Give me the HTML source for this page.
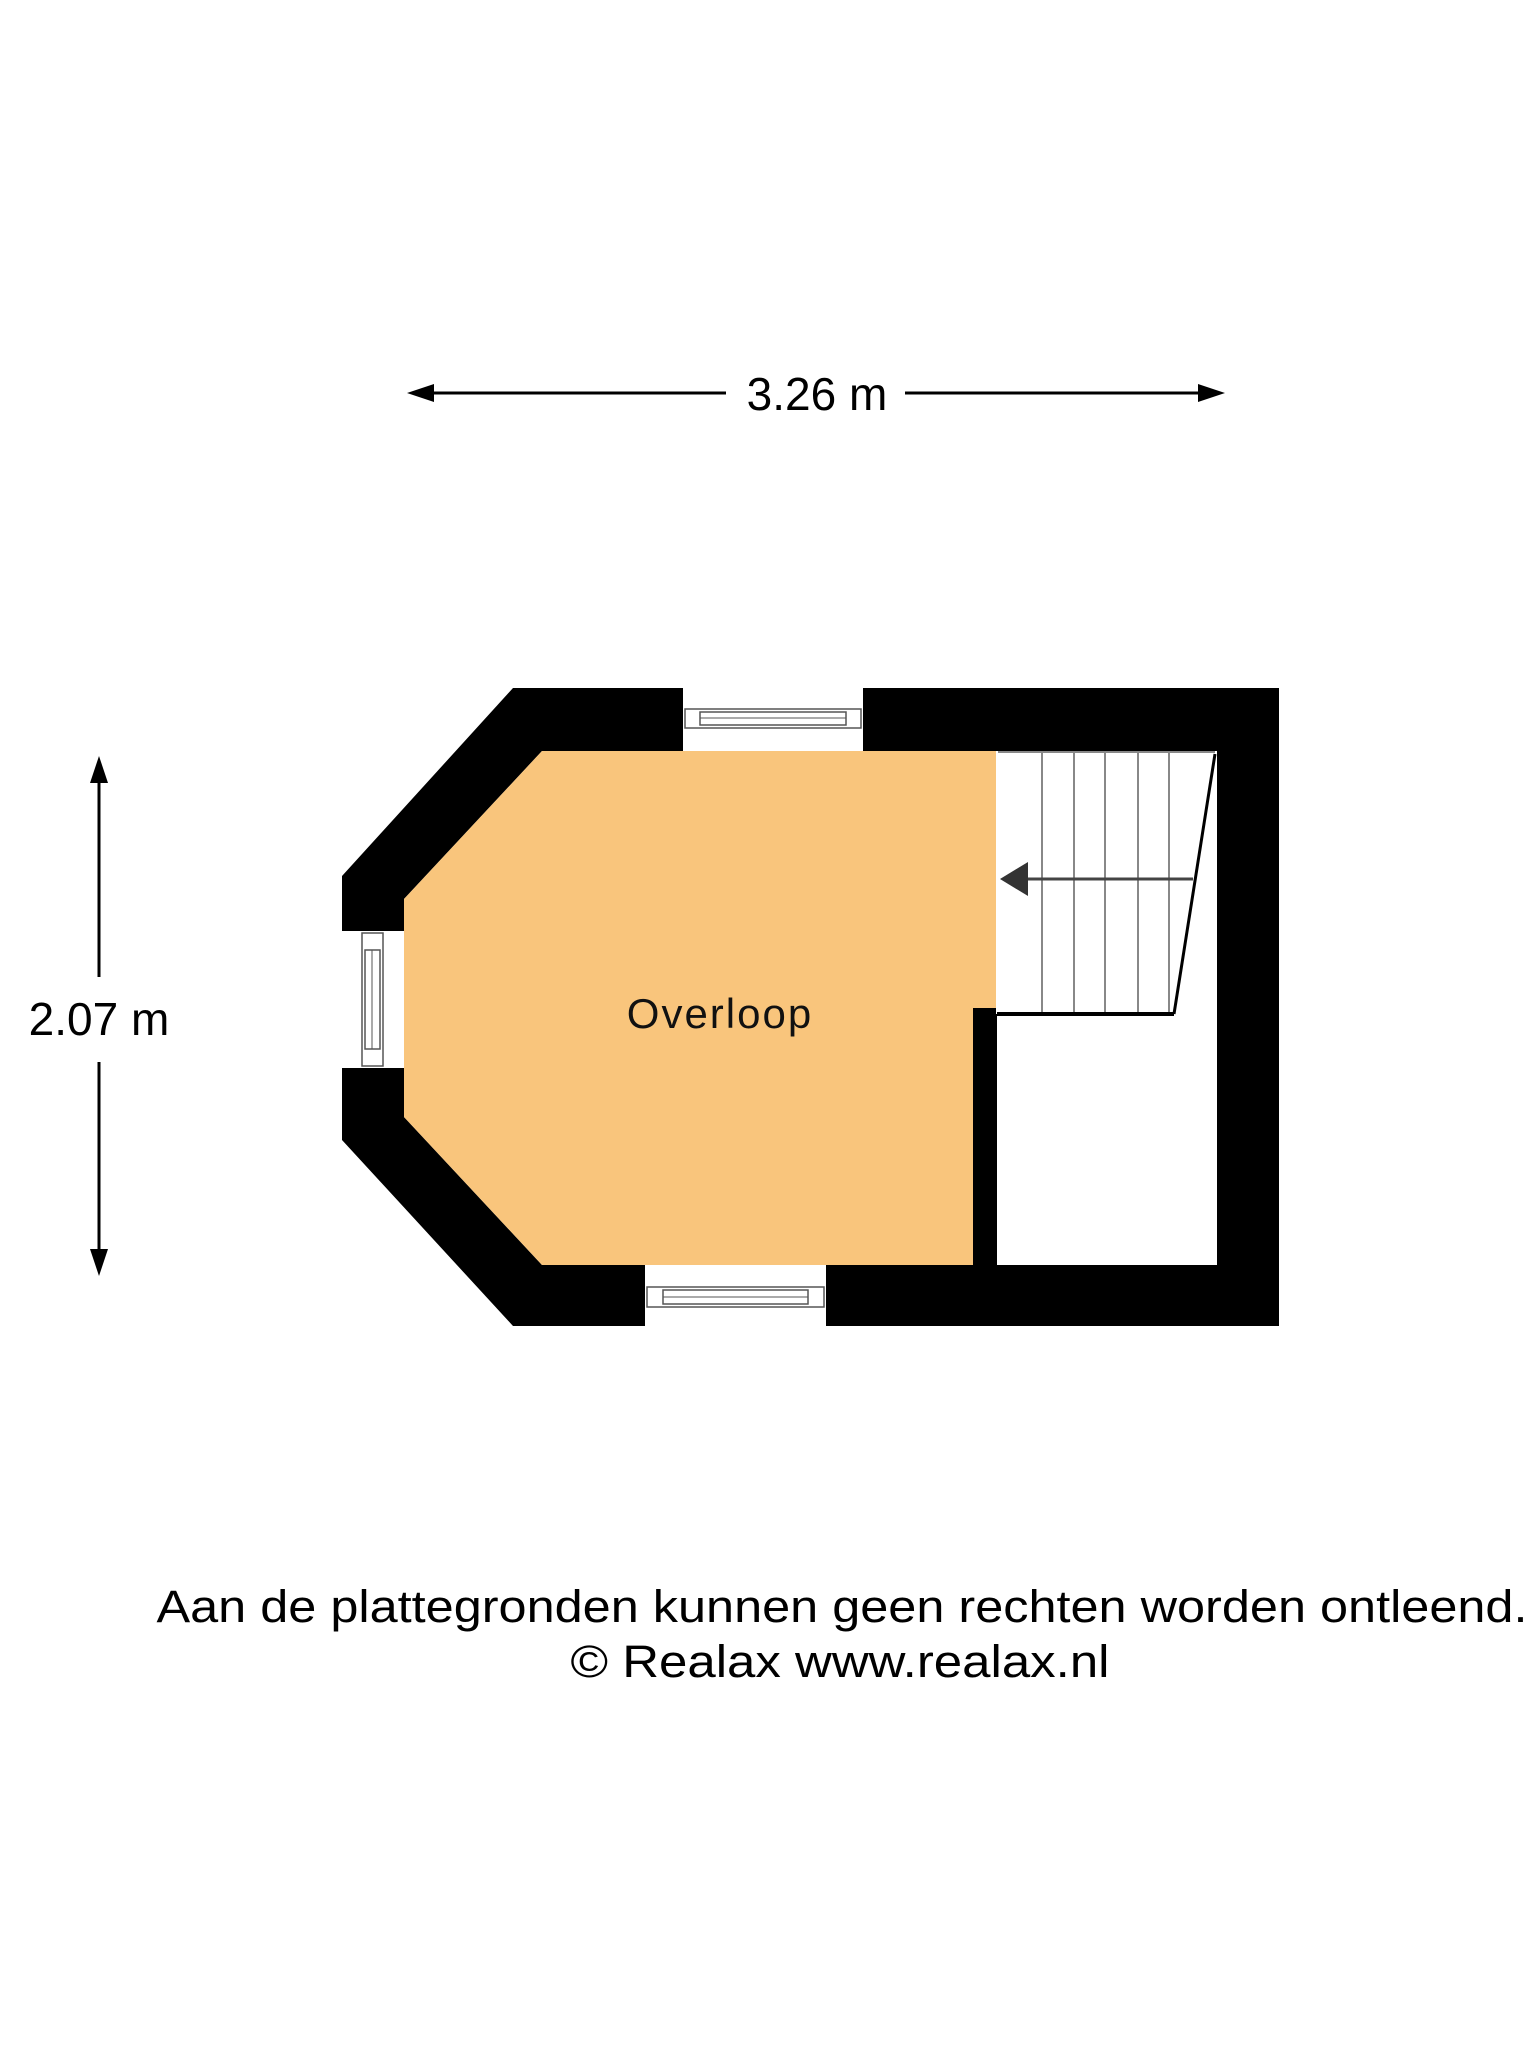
<!DOCTYPE html>
<html><head><meta charset="utf-8"><style>html,body{margin:0;padding:0;background:#fff}svg{display:block}</style></head><body>
<svg width="1536" height="2048" viewBox="0 0 1536 2048" xmlns="http://www.w3.org/2000/svg" font-family="Liberation Sans, sans-serif">
<line x1="420" y1="393" x2="726" y2="393" stroke="#000" stroke-width="3"/>
<line x1="905" y1="393" x2="1212" y2="393" stroke="#000" stroke-width="3"/>
<polygon points="407,393 434,384 434,402" fill="#000"/>
<polygon points="1225,393 1198,384 1198,402" fill="#000"/>
<text x="817" y="410" font-size="46" text-anchor="middle">3.26 m</text>
<line x1="99" y1="770" x2="99" y2="977" stroke="#000" stroke-width="3"/>
<line x1="99" y1="1062" x2="99" y2="1262" stroke="#000" stroke-width="3"/>
<polygon points="99,756 90,783 108,783" fill="#000"/>
<polygon points="99,1276 90,1249 108,1249" fill="#000"/>
<text x="99" y="1035" font-size="46" text-anchor="middle">2.07 m</text>
<polygon points="513,688 683,688 683,751 542,751 404,899 404,931 342,931 342,876" fill="#000"/>
<polygon points="342,1068 404,1068 404,1117 542,1265 645,1265 645,1326 513,1326 342,1140" fill="#000"/>
<polygon points="863,688 1279,688 1279,1326 826,1326 826,1265 1217,1265 1217,751 863,751" fill="#000"/>
<polygon points="542,751 996,751 996,1008 973,1008 973,1265 542,1265 404,1117 404,899" fill="#f9c57c"/>
<rect x="973" y="1008" width="24" height="257" fill="#000"/>
<rect x="996" y="751" width="221" height="263" fill="#fff"/>
<g stroke="#888" stroke-width="2">
<line x1="1042" y1="752" x2="1042" y2="1014"/><line x1="1074" y1="752" x2="1074" y2="1014"/>
<line x1="1105" y1="752" x2="1105" y2="1014"/><line x1="1138" y1="752" x2="1138" y2="1014"/>
<line x1="1169" y1="752" x2="1169" y2="1014"/>
</g>
<line x1="998" y1="752" x2="1215" y2="752" stroke="#888" stroke-width="2"/>
<line x1="997" y1="1014" x2="1174" y2="1014" stroke="#000" stroke-width="4"/>
<line x1="1174" y1="1014" x2="1215" y2="754" stroke="#000" stroke-width="3"/>
<line x1="1026" y1="879" x2="1193" y2="879" stroke="#444" stroke-width="3"/>
<polygon points="1000,879 1028,862 1028,896" fill="#333"/>
<rect x="683" y="688" width="180" height="63" fill="#fff"/>
<rect x="685" y="709" width="176" height="19" fill="none" stroke="#555" stroke-width="1.5"/>
<rect x="700" y="712" width="146" height="13" fill="none" stroke="#555" stroke-width="1.5"/>
<line x1="700" y1="718" x2="846" y2="718" stroke="#555" stroke-width="1"/>
<rect x="645" y="1265" width="181" height="61" fill="#fff"/>
<rect x="647" y="1287" width="177" height="20" fill="none" stroke="#555" stroke-width="1.5"/>
<rect x="663" y="1290" width="145" height="14" fill="none" stroke="#555" stroke-width="1.5"/>
<line x1="663" y1="1297" x2="808" y2="1297" stroke="#555" stroke-width="1"/>
<rect x="342" y="931" width="62" height="137" fill="#fff"/>
<rect x="362" y="933" width="21" height="133" fill="none" stroke="#555" stroke-width="1.5"/>
<rect x="365" y="950" width="15" height="99" fill="none" stroke="#555" stroke-width="1.5"/>
<line x1="372" y1="950" x2="372" y2="1049" stroke="#555" stroke-width="1"/>
<text x="720" y="1028" font-size="42" text-anchor="middle" letter-spacing="2" fill="#111">Overloop</text>
<text x="842" y="1622" font-size="45" text-anchor="middle" textLength="1371" lengthAdjust="spacingAndGlyphs">Aan de plattegronden kunnen geen rechten worden ontleend.</text>
<text x="840" y="1677" font-size="45" text-anchor="middle" textLength="539" lengthAdjust="spacingAndGlyphs">© Realax www.realax.nl</text>
</svg>
</body></html>
